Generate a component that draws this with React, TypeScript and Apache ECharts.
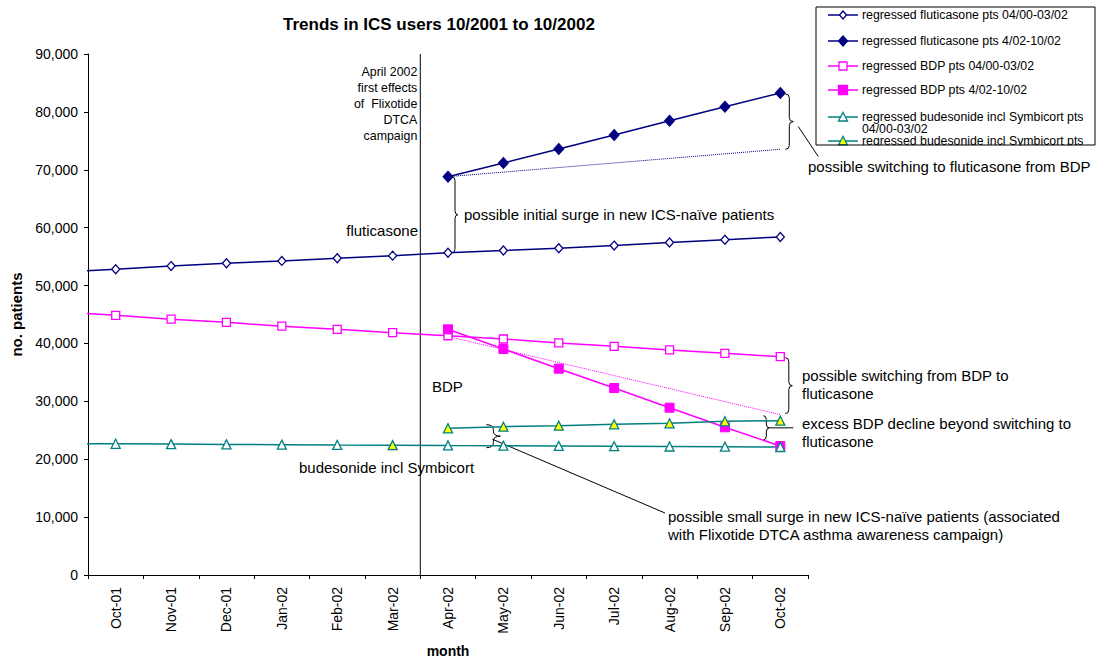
import React, { useEffect, useRef } from "react";
import * as echarts from "echarts";

// ---- data ----
const months = ["Sep-01", "Oct-01", "Nov-01", "Dec-01", "Jan-02", "Feb-02", "Mar-02", "Apr-02", "May-02", "Jun-02", "Jul-02", "Aug-02", "Sep-02", "Oct-02"];
const seriesNames = [
  "regressed fluticasone pts 04/00-03/02",
  "regressed fluticasone pts 4/02-10/02",
  "regressed BDP pts 04/00-03/02",
  "regressed BDP pts 4/02-10/02",
  "regressed budesonide incl Symbicort pts 04/00-03/02",
  "regressed budesonide incl Symbicort pts 4/02-10/02",
];
const flutPre = [52340, 52830, 53360, 53850, 54260, 54720, 55170, 55670, 56050, 56450, 56900, 57450, 57920, 58400];
const flutPost = [null, null, null, null, null, null, null, 68810, 71180, 73590, 76010, 78480, 80900, 83280];
const flutTrend = [null, null, null, null, null, null, null, 68810, null, null, null, null, null, 73540];
const bdpPre = [45440, 44860, 44200, 43650, 42980, 42440, 41860, 41330, 40770, 40090, 39510, 38880, 38300, 37710];
const bdpPost = [null, null, null, null, null, null, null, 42440, 39040, 35640, 32300, 28900, 25510, 22280];
const bdpTrend = [null, null, null, null, null, null, null, 41200, null, null, null, null, null, 27700];
const budPre = [22720, 22660, 22610, 22560, 22520, 22470, 22430, 22380, 22340, 22290, 22250, 22200, 22160, 22110];
const budPost = [null, null, null, null, null, null, null, 25340, 25620, 25790, 26030, 26200, 26550, 26660];
const budPreHighlightIndex = 6;
const yTicks = { min: 0, max: 90000, interval: 10000 };

const NAVY = "#000080";
const MAG = "#FF00FF";
const TEAL = "#008080";
const YEL = "#FFFF00";
const FONT = '"Liberation Sans", Arial, Helvetica, sans-serif';

export default function App() {
  const ref = useRef<HTMLDivElement>(null);
  useEffect(() => {
    const chart = echarts.init(ref.current!, null, { renderer: "svg" });
    const lineBase = (color: string) => ({
      type: "line",
      clip: true,
      lineStyle: { color, width: 1.5 },
      emphasis: { disabled: true },
    });
    chart.setOption({
      animation: false,
      backgroundColor: "#fff",
      textStyle: { fontFamily: FONT },
      title: {
        text: "Trends in ICS users 10/2001 to 10/2002",
        left: 278,
        top: 11,
        textStyle: { fontSize: 17, fontWeight: "bold", color: "#000", fontFamily: FONT },
      },
      grid: { left: 88, top: 54, right: 291, bottom: 84, containLabel: false, outerBoundsMode: "none" },
      xAxis: {
        type: "category",
        data: months,
        min: 1,
        boundaryGap: true,
        name: "month",
        nameLocation: "middle",
        nameGap: 69,
        nameTextStyle: { fontSize: 14, fontWeight: "bold", color: "#000", fontFamily: FONT },
        axisLine: { lineStyle: { color: "#000", width: 1 } },
        axisTick: { show: true, interval: 0, length: 4, lineStyle: { color: "#000" } },
        axisLabel: { interval: 0, rotate: 90, fontSize: 14, color: "#000", margin: 12, fontFamily: FONT },
        splitLine: { show: false },
      },
      yAxis: {
        type: "value",
        min: yTicks.min,
        max: yTicks.max,
        interval: yTicks.interval,
        name: "no. patients",
        nameLocation: "middle",
        nameGap: 59,
        nameRotate: 90,
        nameTextStyle: { fontSize: 15, fontWeight: "bold", color: "#000", fontFamily: FONT },
        axisLine: { show: true, lineStyle: { color: "#000", width: 1 } },
        axisTick: { show: true, length: 4, lineStyle: { color: "#000" } },
        axisLabel: { fontSize: 14, color: "#000", margin: 10, fontFamily: FONT },
        splitLine: { show: false },
      },
      series: [
        {
          ...lineBase(NAVY),
          name: seriesNames[0],
          data: flutPre,
          symbol: "diamond",
          symbolSize: [8, 9],
          itemStyle: { color: "#fff", borderColor: NAVY, borderWidth: 1.3 },
        },
        {
          ...lineBase(NAVY),
          name: seriesNames[1],
          data: flutPost,
          symbol: "diamond",
          symbolSize: [10, 11],
          itemStyle: { color: NAVY, borderColor: NAVY, borderWidth: 1 },
        },
        {
          type: "line",
          name: "fluticasone trend",
          data: flutTrend,
          connectNulls: true,
          symbol: "none",
          lineStyle: { color: NAVY, width: 1, type: [1, 1] },
          emphasis: { disabled: true },
        },
        {
          ...lineBase(MAG),
          name: seriesNames[2],
          data: bdpPre,
          symbol: "rect",
          symbolSize: 8,
          itemStyle: { color: "#fff", borderColor: MAG, borderWidth: 1.3 },
        },
        {
          ...lineBase(MAG),
          name: seriesNames[3],
          data: bdpPost,
          symbol: "rect",
          symbolSize: 9,
          itemStyle: { color: MAG, borderColor: MAG, borderWidth: 1 },
        },
        {
          type: "line",
          name: "BDP trend",
          data: bdpTrend,
          connectNulls: true,
          symbol: "none",
          lineStyle: { color: MAG, width: 1, type: [1, 1] },
          emphasis: { disabled: true },
        },
        {
          ...lineBase(TEAL),
          name: seriesNames[4],
          data: budPre.map((v, i) => (i === budPreHighlightIndex ? { value: v, itemStyle: { color: YEL } } : v)),
          symbol: "triangle",
          symbolSize: 9,
          itemStyle: { color: "#fff", borderColor: TEAL, borderWidth: 1.3 },
        },
        {
          ...lineBase(TEAL),
          name: seriesNames[5],
          data: budPost,
          symbol: "triangle",
          symbolSize: 9,
          itemStyle: { color: YEL, borderColor: TEAL, borderWidth: 1.3 },
        },
      ],
    });

    const P = (i: number, v: number) => chart.convertToPixel({ gridIndex: 0 }, [i, v]) as number[];
    const stroke = { stroke: "#000", lineWidth: 1, fill: "none" };
    const els: any[] = [];
    const line = (x1: number, y1: number, x2: number, y2: number, st: any = stroke) =>
      els.push({ type: "line", shape: { x1, y1, x2, y2 }, style: st, silent: true });
    const brace = (x: number, yT: number, yB: number, w: number, r = 4) => {
      const h = w / 2;
      const ym = (yT + yB) / 2;
      const q = (x1: number, y1: number, cx: number, cy: number, x2: number, y2: number) =>
        els.push({ type: "bezierCurve", shape: { x1, y1, cpx1: cx, cpy1: cy, x2, y2 }, style: stroke, silent: true });
      q(x, yT, x + h, yT, x + h, yT + r);
      line(x + h, yT + r, x + h, ym - r);
      q(x + h, ym - r, x + h, ym, x + w, ym);
      q(x + w, ym, x + h, ym, x + h, ym + r);
      line(x + h, ym + r, x + h, yB - r);
      q(x + h, yB - r, x + h, yB, x, yB);
      return [x + w, ym];
    };
    const text = (x: number, y: number, t: string, opts: any = {}) =>
      els.push({
        type: "text",
        x,
        y,
        silent: true,
        style: {
          text: t,
          fill: "#000",
          fontFamily: FONT,
          fontSize: opts.fontSize || 15,
          align: opts.align || "left",
          textAlign: opts.align || "left",
          verticalAlign: "middle",
          textVerticalAlign: "middle",
          lineHeight: opts.lineHeight || 18,
        },
      });

    // vertical campaign line between Mar-02 and Apr-02
    const xMar = P(6, 0)[0];
    const xApr = P(7, 0)[0];
    const xMid = (xMar + xApr) / 2;
    line(xMid, P(7, yTicks.max)[1], xMid, P(7, 0)[1]);
    text(xMid - 3, 104, "April 2002\nfirst effects\nof  Flixotide\nDTCA\ncampaign", { align: "right", fontSize: 12.4, lineHeight: 16 });

    // series labels
    text(418, 230, "fluticasone", { align: "right" });
    text(432, 386, "BDP");
    text(299, 467, "budesonide incl Symbicort");

    // 1. initial surge fluticasone
    const a1 = P(7, flutPost[7] as number);
    const b1 = P(7, flutPre[7]);
    brace(a1[0] + 4, a1[1], b1[1], 6);
    text(464, 214, "possible initial surge in new ICS-naïve patients");

    // 2. switching to fluticasone
    const a2 = P(13, flutPost[13] as number);
    const b2 = P(13, flutTrend[13] as number);
    const t2 = brace(a2[0] + 5, a2[1] + 1, b2[1], 8);
    line(t2[0] + 5, t2[1] + 5, t2[0] + 25, t2[1] + 35);
    text(808, 166, "possible switching to fluticasone from BDP");

    // 3. switching from BDP
    const a3 = P(13, bdpPre[13]);
    const b3 = P(13, bdpTrend[13] as number);
    brace(a3[0] + 5, a3[1] + 1, b3[1] - 1, 7);
    text(802, 384, "possible switching from BDP to\nfluticasone");

    // 4. excess BDP decline
    const a4 = P(13, budPost[13] as number);
    const b4 = P(13, bdpPost[13] as number);
    const t4 = brace(a4[0] - 17, a4[1] - 5, b4[1] - 6, 6);
    line(t4[0], t4[1], t4[0] + 24, t4[1]);
    text(802, 432, "excess BDP decline beyond switching to\nfluticasone");

    // 5. small surge budesonide
    const a5 = P(8, budPost[8] as number);
    const b5 = P(8, budPre[8]);
    const t5 = brace(a5[0] - 17, a5[1] - 2, b5[1] + 2, 14, 5);
    line(t5[0] - 8, t5[1] + 3, 665, 513);
    text(668, 525, "possible small surge in new ICS-naïve patients (associated\nwith Flixotide DTCA asthma awareness campaign)");

    // legend (clipped box like the original)
    const LX = 816, LY = 7, LW = 279, LH = 138;
    els.push({ type: "rect", shape: { x: LX, y: LY, width: LW, height: LH }, style: { fill: "#fff", stroke: "none" }, silent: true });
    const rows = [15, 41, 66, 90, 117, 141];
    const colors = [NAVY, NAVY, MAG, MAG, TEAL, TEAL];
    const lx1 = 828, lx2 = 858, sx = 843;
    rows.forEach((ry, i) => {
      els.push({ type: "line", shape: { x1: lx1, y1: ry, x2: lx2, y2: ry }, style: { stroke: colors[i], lineWidth: 1.5 }, silent: true });
      if (i < 2) {
        const s = i === 0 ? 4 : 5;
        els.push({
          type: "polygon",
          shape: { points: [[sx, ry - s], [sx + s - 0.5, ry], [sx, ry + s], [sx - s + 0.5, ry]] },
          style: { fill: i === 0 ? "#fff" : NAVY, stroke: NAVY, lineWidth: 1.3 },
          silent: true,
        });
      } else if (i < 4) {
        const s = i === 2 ? 8 : 9;
        els.push({
          type: "rect",
          shape: { x: sx - s / 2, y: ry - s / 2, width: s, height: s },
          style: { fill: i === 2 ? "#fff" : MAG, stroke: MAG, lineWidth: 1.3 },
          silent: true,
        });
      } else {
        els.push({
          type: "polygon",
          shape: { points: [[sx, ry - 4.5], [sx + 4.5, ry + 4], [sx - 4.5, ry + 4]] },
          style: { fill: i === 4 ? "#fff" : YEL, stroke: TEAL, lineWidth: 1.3 },
          silent: true,
        });
      }
    });
    const legText = (y: number, t: string) =>
      els.push({
        type: "text",
        x: 862,
        y,
        silent: true,
        style: { text: t, fill: "#000", fontFamily: FONT, fontSize: 12.3, align: "left", textAlign: "left", verticalAlign: "middle", textVerticalAlign: "middle", lineHeight: 12 },
      });
    legText(rows[0], seriesNames[0]);
    legText(rows[1], seriesNames[1]);
    legText(rows[2], seriesNames[2]);
    legText(rows[3], seriesNames[3]);
    legText(rows[4] + 6, "regressed budesonide incl Symbicort pts\n04/00-03/02");
    legText(rows[5], "regressed budesonide incl Symbicort pts");
    // cover overflow of last legend row, then border
    els.push({ type: "rect", shape: { x: LX + 1, y: LY + LH + 0.5, width: LW - 1, height: 8 }, style: { fill: "#fff", stroke: "none" }, silent: true });
    els.push({ type: "rect", shape: { x: LX, y: LY, width: LW, height: LH }, style: { fill: "none", stroke: "#000", lineWidth: 1 }, silent: true });

    chart.setOption({ graphic: { elements: els } });
    return () => chart.dispose();
  }, []);
  return <div ref={ref} style={{ position: "fixed", left: 0, top: 0, width: 1099, height: 659 }} />;
}
